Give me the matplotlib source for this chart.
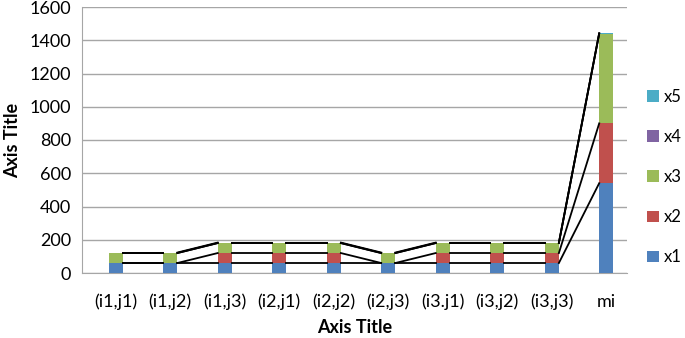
import numpy as np
import matplotlib
matplotlib.use("Agg")
import matplotlib.pyplot as plt

# данные
categories = ["(i1,j1)", "(i1,j2)", "(i1,j3)", "(i2,j1)", "(i2,j2)", "(i2,j3)",
              "(i3.j1)", "(i3,j2)", "(i3,j3)", "mi"]
x1 = [60, 60, 60, 60, 60, 60, 60, 60, 60, 540]
x2 = [0, 0, 60, 60, 60, 0, 60, 60, 60, 360]
x3 = [60, 60, 60, 60, 60, 60, 60, 60, 60, 540]
x4 = [0, 0, 0, 0, 0, 0, 0, 0, 0, 0]
x5 = [3, 3, 3, 3, 3, 3, 3, 3, 3, 3]
series = [("x1", x1, "#4F81BD"), ("x2", x2, "#C0504D"), ("x3", x3, "#9BBB59"),
          ("x4", x4, "#8064A2"), ("x5", x5, "#4BACC6")]

plt.rcParams['font.family'] = ['Lato', 'DejaVu Sans']

fig = plt.figure(figsize=(6.85, 3.38), dpi=100)
ax = fig.add_axes([82 / 685, 1 - 273 / 338, 545 / 685, 266 / 338])

pos = np.arange(len(categories))
w = 0.26
bottom = np.zeros(len(categories))
handles = []
for name, vals, col in series:
    vals = np.array(vals, dtype=float)
    h = ax.bar(pos + 0.12, vals, w, bottom=bottom, color=col, label=name, zorder=3)
    handles.append(h)
    bottom = bottom + vals
    # линии ряда между столбцами
    for i in range(len(pos) - 1):
        ax.plot([pos[i] + 0.12 + w / 2, pos[i + 1] + 0.12 - w / 2],
                [bottom[i], bottom[i + 1]], color="black", lw=1.3, zorder=4)

ax.set_xlim(-0.5, len(categories) - 0.5)
ax.set_ylim(0, 1600)
ax.set_yticks(range(0, 1601, 200))
ax.set_xticks(pos + 0.12)
ax.set_xticklabels(categories)
ax.yaxis.grid(True, color="#A6A6A6", lw=1, zorder=0)
ax.set_axisbelow(True)
for s in ["top", "right"]:
    ax.spines[s].set_visible(False)
for s in ["left", "bottom"]:
    ax.spines[s].set_color("#A6A6A6")
ax.tick_params(axis="both", length=0, labelsize=13, pad=8)
ax.tick_params(axis="x", pad=15)
ax.set_xlabel("Axis Title", fontsize=13, fontweight="bold", labelpad=6)
ax.set_ylabel("Axis Title", fontsize=13, fontweight="bold", labelpad=6)

leg = fig.legend(handles[::-1], [s[0] for s in series][::-1], loc="center left",
                 bbox_to_anchor=(647 / 685, 1 - 177 / 338), frameon=False,
                 fontsize=12, handlelength=0.7, handleheight=0.7,
                 labelspacing=1.45, handletextpad=0.3, borderaxespad=0,
                 borderpad=0)

plt.savefig("out.png", dpi=100)
